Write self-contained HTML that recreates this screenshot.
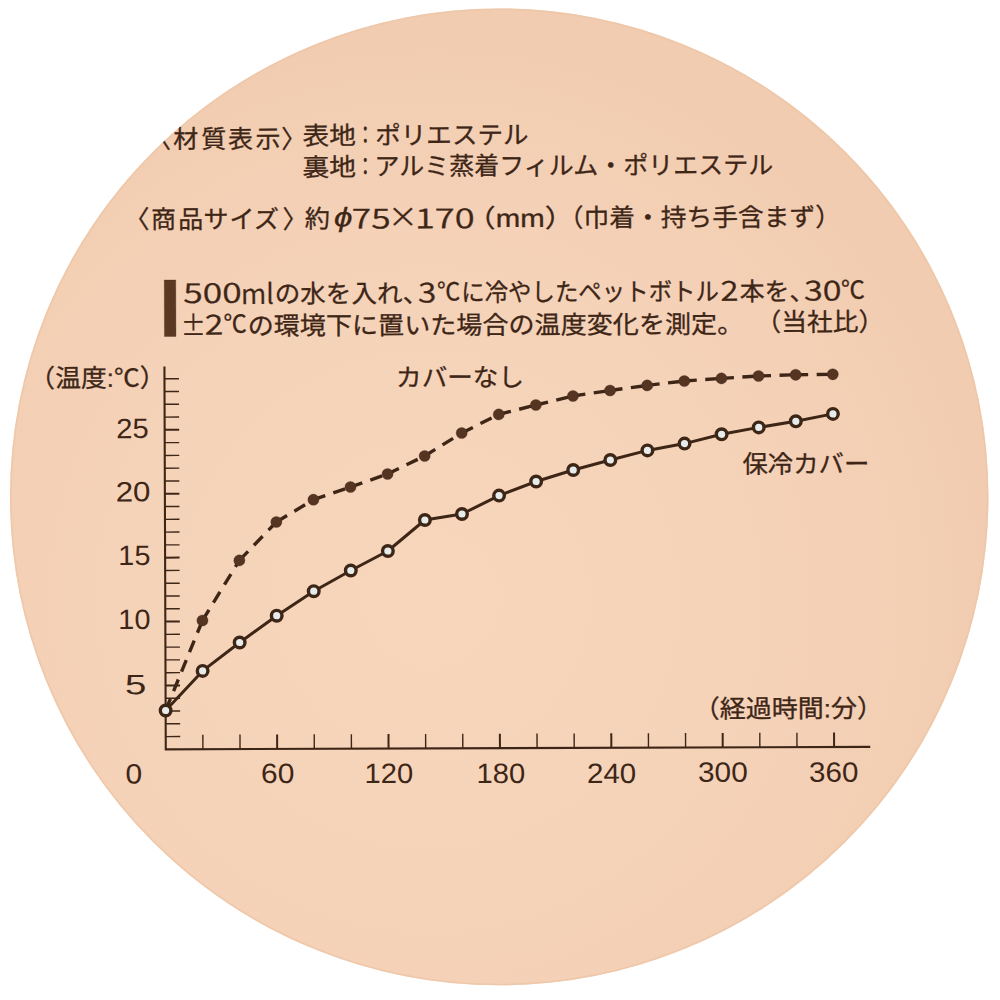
<!DOCTYPE html>
<html><head><meta charset="utf-8"><title>保冷カバー</title>
<style>html,body{margin:0;padding:0;background:#fff;width:1000px;height:1000px;overflow:hidden}svg{display:block}</style>
</head><body>
<svg width="1000" height="1000" viewBox="0 0 1000 1000">
<defs><radialGradient id="bg" gradientUnits="userSpaceOnUse" cx="430" cy="600" r="560"><stop offset="0" stop-color="#f7d6bc"/><stop offset="0.55" stop-color="#f5d3b9"/><stop offset="0.85" stop-color="#f3cfb4"/><stop offset="1" stop-color="#f1ccb0"/></radialGradient><clipPath id="c"><ellipse cx="499.2" cy="496.9" rx="489.2" ry="488.4"/></clipPath></defs>
<ellipse cx="499.2" cy="496.9" rx="489.2" ry="488.4" fill="url(#bg)"/>
<ellipse cx="499.2" cy="496.9" rx="488.4" ry="487.6" fill="none" stroke="#eec5a6" stroke-width="1.6" stroke-opacity="0.8"/>
<g clip-path="url(#c)"><g transform="rotate(-0.2 500 500)" fill="#3e2617" stroke="#3e2617" stroke-width="0.3">
<rect x="165.02" y="278.85" width="11.5" height="56.5" fill="#5a3822"/>
<text x="303.81" y="144.01" font-family="'Liberation Sans', 'Noto Sans CJK JP', sans-serif" font-size="25" textLength="53.45" lengthAdjust="spacingAndGlyphs">表地</text>
<text x="357.60" y="143.63" font-family="'Liberation Sans', 'Noto Sans CJK JP', sans-serif" font-size="25" textLength="18.14" lengthAdjust="spacingAndGlyphs">：</text>
<text x="376.43" y="143.84" font-family="'Liberation Sans', 'Noto Sans CJK JP', sans-serif" font-size="25" textLength="153.49" lengthAdjust="spacingAndGlyphs">ポリエステル</text>
<text x="303.70" y="175.51" font-family="'Liberation Sans', 'Noto Sans CJK JP', sans-serif" font-size="25" textLength="53.56" lengthAdjust="spacingAndGlyphs">裏地</text>
<text x="357.49" y="175.13" font-family="'Liberation Sans', 'Noto Sans CJK JP', sans-serif" font-size="25" textLength="18.14" lengthAdjust="spacingAndGlyphs">：</text>
<text x="375.57" y="174.76" font-family="'Liberation Sans', 'Noto Sans CJK JP', sans-serif" font-size="25">アルミ蒸着フィルム・ポリエステル</text>
<text x="305.58" y="227.06" font-family="'Liberation Sans', 'Noto Sans CJK JP', sans-serif" font-size="25" textLength="25.23" lengthAdjust="spacingAndGlyphs">約</text>
<text x="334.95" y="226.05" font-family="'Noto Sans CJK JP DemiLight', 'Noto Sans CJK JP', sans-serif" font-size="27" font-style="italic" textLength="18.50" lengthAdjust="spacingAndGlyphs">ϕ</text>
<text x="352.70" y="227.95" font-family="'Noto Sans CJK JP DemiLight', 'Noto Sans CJK JP', sans-serif" font-size="27.5" textLength="38.83" lengthAdjust="spacingAndGlyphs">75</text>
<text x="389.07" y="226.56" font-family="'Noto Sans CJK JP DemiLight', 'Noto Sans CJK JP', sans-serif" font-size="27.5" textLength="29.79" lengthAdjust="spacingAndGlyphs">×</text>
<text x="415.84" y="228.01" font-family="'Noto Sans CJK JP DemiLight', 'Noto Sans CJK JP', sans-serif" font-size="27.5" textLength="59.86" lengthAdjust="spacingAndGlyphs">170</text>
<text x="467.23" y="227.07" font-family="'Liberation Sans', 'Noto Sans CJK JP', sans-serif" font-size="25" textLength="107.85" lengthAdjust="spacingAndGlyphs">（mm）</text>
<text x="558.67" y="227.00" font-family="'Liberation Sans', 'Noto Sans CJK JP', sans-serif" font-size="25" textLength="283.35" lengthAdjust="spacingAndGlyphs">（巾着・持ち手含まず）</text>
<text x="183.93" y="301.90" font-family="'Noto Sans CJK JP DemiLight', 'Noto Sans CJK JP', sans-serif" font-size="27.5" textLength="58.46" lengthAdjust="spacingAndGlyphs">500</text>
<text x="241.72" y="303.06" font-family="'Noto Sans CJK JP DemiLight', 'Noto Sans CJK JP', sans-serif" font-size="27.5">ml</text>
<text x="275.43" y="302.06" font-family="'Liberation Sans', 'Noto Sans CJK JP', sans-serif" font-size="25" textLength="153.68" lengthAdjust="spacingAndGlyphs">の水を入れ、</text>
<text x="418.76" y="302.25" font-family="'Noto Sans CJK JP DemiLight', 'Noto Sans CJK JP', sans-serif" font-size="27.5" textLength="18.31" lengthAdjust="spacingAndGlyphs">3</text>
<text x="437.79" y="300.32" font-family="'Liberation Sans', 'Noto Sans CJK JP', sans-serif" font-size="25" textLength="23.38" lengthAdjust="spacingAndGlyphs">℃</text>
<text x="461.91" y="301.12" font-family="'Liberation Sans', 'Noto Sans CJK JP', sans-serif" font-size="25" textLength="257.76" lengthAdjust="spacingAndGlyphs">に冷やしたペットボトル</text>
<text x="721.29" y="301.55" font-family="'Noto Sans CJK JP DemiLight', 'Noto Sans CJK JP', sans-serif" font-size="27.5" textLength="18.02" lengthAdjust="spacingAndGlyphs">2</text>
<text x="740.33" y="301.44" font-family="'Liberation Sans', 'Noto Sans CJK JP', sans-serif" font-size="25" textLength="74.75" lengthAdjust="spacingAndGlyphs">本を、</text>
<text x="804.69" y="301.53" font-family="'Noto Sans CJK JP DemiLight', 'Noto Sans CJK JP', sans-serif" font-size="27.5" textLength="37.54" lengthAdjust="spacingAndGlyphs">30</text>
<text x="841.78" y="299.83" font-family="'Liberation Sans', 'Noto Sans CJK JP', sans-serif" font-size="25" textLength="23.93" lengthAdjust="spacingAndGlyphs">℃</text>
<text x="181.51" y="334.43" font-family="'Noto Sans CJK JP DemiLight', 'Noto Sans CJK JP', sans-serif" font-size="27.5" textLength="24.75" lengthAdjust="spacingAndGlyphs">±</text>
<text x="205.38" y="333.50" font-family="'Noto Sans CJK JP DemiLight', 'Noto Sans CJK JP', sans-serif" font-size="27.5" textLength="18.60" lengthAdjust="spacingAndGlyphs">2</text>
<text x="224.18" y="331.88" font-family="'Liberation Sans', 'Noto Sans CJK JP', sans-serif" font-size="25" textLength="23.38" lengthAdjust="spacingAndGlyphs">℃</text>
<text x="248.28" y="333.86" font-family="'Liberation Sans', 'Noto Sans CJK JP', sans-serif" font-size="25" textLength="495.54" lengthAdjust="spacingAndGlyphs">の環境下に置いた場合の温度変化を測定。</text>
<text x="756.10" y="332.02" font-family="'Liberation Sans', 'Noto Sans CJK JP', sans-serif" font-size="25" textLength="128.86" lengthAdjust="spacingAndGlyphs">（当社比）</text>
<text x="29.78" y="385.50" font-family="'Liberation Sans', 'Noto Sans CJK JP', sans-serif" font-size="25" textLength="136.26" lengthAdjust="spacingAndGlyphs">（温度:℃）</text>
<text x="396.46" y="386.16" font-family="'Liberation Sans', 'Noto Sans CJK JP', sans-serif" font-size="25" textLength="127.96" lengthAdjust="spacingAndGlyphs">カバーなし</text>
<text x="742.51" y="473.97" font-family="'Liberation Sans', 'Noto Sans CJK JP', sans-serif" font-size="25" textLength="126.96" lengthAdjust="spacingAndGlyphs">保冷カバー</text>
<text x="692.98" y="718.41" font-family="'Liberation Sans', 'Noto Sans CJK JP', sans-serif" font-size="25" textLength="189.33" lengthAdjust="spacingAndGlyphs">（経過時間:分）</text>
<text x="116.46" y="436.84" font-family="'Liberation Sans', sans-serif" font-size="28" stroke="none" textLength="32.50" lengthAdjust="spacingAndGlyphs">25</text>
<text x="115.71" y="500.07" font-family="'Liberation Sans', sans-serif" font-size="28" stroke="none" textLength="34.81" lengthAdjust="spacingAndGlyphs">20</text>
<text x="118.15" y="563.77" font-family="'Liberation Sans', sans-serif" font-size="28" stroke="none" textLength="32.05" lengthAdjust="spacingAndGlyphs">15</text>
<text x="117.93" y="627.62" font-family="'Liberation Sans', sans-serif" font-size="28" stroke="none" textLength="32.05" lengthAdjust="spacingAndGlyphs">10</text>
<text x="124.39" y="692.93" font-family="'Liberation Sans', sans-serif" font-size="28" stroke="none" textLength="21.36" lengthAdjust="spacingAndGlyphs">5</text>
<text x="124.57" y="782.22" font-family="'Liberation Sans', sans-serif" font-size="28" stroke="none" textLength="16.69" lengthAdjust="spacingAndGlyphs">0</text>
<text x="259.97" y="782.17" font-family="'Liberation Sans', sans-serif" font-size="28" stroke="none" textLength="33.41" lengthAdjust="spacingAndGlyphs">60</text>
<text x="363.56" y="782.56" font-family="'Liberation Sans', sans-serif" font-size="28" stroke="none" textLength="48.74" lengthAdjust="spacingAndGlyphs">120</text>
<text x="475.46" y="782.95" font-family="'Liberation Sans', sans-serif" font-size="28" stroke="none" textLength="48.74" lengthAdjust="spacingAndGlyphs">180</text>
<text x="585.99" y="783.34" font-family="'Liberation Sans', sans-serif" font-size="28" stroke="none" textLength="49.21" lengthAdjust="spacingAndGlyphs">240</text>
<text x="696.98" y="782.48" font-family="'Liberation Sans', sans-serif" font-size="28" stroke="none" textLength="49.83" lengthAdjust="spacingAndGlyphs">300</text>
<text x="807.99" y="782.86" font-family="'Liberation Sans', sans-serif" font-size="28" stroke="none" textLength="49.42" lengthAdjust="spacingAndGlyphs">360</text>
<text x="147.27" y="146.72" font-family="'Liberation Sans', 'Noto Sans CJK JP', sans-serif" font-size="25">〈</text>
<text x="174.47" y="146.76" font-family="'Liberation Sans', 'Noto Sans CJK JP', sans-serif" font-size="25">材</text>
<text x="202.47" y="146.86" font-family="'Liberation Sans', 'Noto Sans CJK JP', sans-serif" font-size="25">質</text>
<text x="229.27" y="146.96" font-family="'Liberation Sans', 'Noto Sans CJK JP', sans-serif" font-size="25">表</text>
<text x="256.67" y="147.05" font-family="'Liberation Sans', 'Noto Sans CJK JP', sans-serif" font-size="25">示</text>
<text x="282.57" y="147.15" font-family="'Liberation Sans', 'Noto Sans CJK JP', sans-serif" font-size="25">〉</text>
<text x="125.39" y="226.94" font-family="'Liberation Sans', 'Noto Sans CJK JP', sans-serif" font-size="25">〈</text>
<text x="151.99" y="226.99" font-family="'Liberation Sans', 'Noto Sans CJK JP', sans-serif" font-size="25">商</text>
<text x="179.19" y="227.09" font-family="'Liberation Sans', 'Noto Sans CJK JP', sans-serif" font-size="25">品</text>
<text x="204.49" y="227.17" font-family="'Liberation Sans', 'Noto Sans CJK JP', sans-serif" font-size="25">サ</text>
<text x="230.49" y="227.26" font-family="'Liberation Sans', 'Noto Sans CJK JP', sans-serif" font-size="25">イ</text>
<text x="254.99" y="227.35" font-family="'Liberation Sans', 'Noto Sans CJK JP', sans-serif" font-size="25">ズ</text>
<text x="283.48" y="227.45" font-family="'Liberation Sans', 'Noto Sans CJK JP', sans-serif" font-size="25">〉</text>
<path d="M164.90 365.30 V748.20 H869.40" fill="none" stroke="#3e2617" stroke-width="2.1" stroke-linecap="butt" stroke-linejoin="miter"/>
<line x1="164.90" y1="735.42" x2="179.40" y2="735.42" stroke="#3e2617" stroke-width="1.4"/>
<line x1="164.90" y1="722.64" x2="179.40" y2="722.64" stroke="#3e2617" stroke-width="1.4"/>
<line x1="164.90" y1="709.86" x2="179.40" y2="709.86" stroke="#3e2617" stroke-width="1.4"/>
<line x1="164.90" y1="697.08" x2="179.40" y2="697.08" stroke="#3e2617" stroke-width="1.4"/>
<line x1="164.90" y1="684.30" x2="179.40" y2="684.30" stroke="#3e2617" stroke-width="2.0"/>
<line x1="164.90" y1="671.52" x2="179.40" y2="671.52" stroke="#3e2617" stroke-width="1.4"/>
<line x1="164.90" y1="658.74" x2="179.40" y2="658.74" stroke="#3e2617" stroke-width="1.4"/>
<line x1="164.90" y1="645.96" x2="179.40" y2="645.96" stroke="#3e2617" stroke-width="1.4"/>
<line x1="164.90" y1="633.18" x2="179.40" y2="633.18" stroke="#3e2617" stroke-width="1.4"/>
<line x1="164.90" y1="620.40" x2="179.40" y2="620.40" stroke="#3e2617" stroke-width="2.0"/>
<line x1="164.90" y1="607.62" x2="179.40" y2="607.62" stroke="#3e2617" stroke-width="1.4"/>
<line x1="164.90" y1="594.84" x2="179.40" y2="594.84" stroke="#3e2617" stroke-width="1.4"/>
<line x1="164.90" y1="582.06" x2="179.40" y2="582.06" stroke="#3e2617" stroke-width="1.4"/>
<line x1="164.90" y1="569.28" x2="179.40" y2="569.28" stroke="#3e2617" stroke-width="1.4"/>
<line x1="164.90" y1="556.50" x2="179.40" y2="556.50" stroke="#3e2617" stroke-width="2.0"/>
<line x1="164.90" y1="543.72" x2="179.40" y2="543.72" stroke="#3e2617" stroke-width="1.4"/>
<line x1="164.90" y1="530.94" x2="179.40" y2="530.94" stroke="#3e2617" stroke-width="1.4"/>
<line x1="164.90" y1="518.16" x2="179.40" y2="518.16" stroke="#3e2617" stroke-width="1.4"/>
<line x1="164.90" y1="505.38" x2="179.40" y2="505.38" stroke="#3e2617" stroke-width="1.4"/>
<line x1="164.90" y1="492.60" x2="179.40" y2="492.60" stroke="#3e2617" stroke-width="2.0"/>
<line x1="164.90" y1="479.82" x2="179.40" y2="479.82" stroke="#3e2617" stroke-width="1.4"/>
<line x1="164.90" y1="467.04" x2="179.40" y2="467.04" stroke="#3e2617" stroke-width="1.4"/>
<line x1="164.90" y1="454.26" x2="179.40" y2="454.26" stroke="#3e2617" stroke-width="1.4"/>
<line x1="164.90" y1="441.48" x2="179.40" y2="441.48" stroke="#3e2617" stroke-width="1.4"/>
<line x1="164.90" y1="428.70" x2="179.40" y2="428.70" stroke="#3e2617" stroke-width="2.0"/>
<line x1="164.90" y1="415.92" x2="179.40" y2="415.92" stroke="#3e2617" stroke-width="1.4"/>
<line x1="164.90" y1="403.14" x2="179.40" y2="403.14" stroke="#3e2617" stroke-width="1.4"/>
<line x1="164.90" y1="390.36" x2="179.40" y2="390.36" stroke="#3e2617" stroke-width="1.4"/>
<line x1="164.90" y1="377.58" x2="179.40" y2="377.58" stroke="#3e2617" stroke-width="1.4"/>
<line x1="202.03" y1="748.20" x2="202.03" y2="733.70" stroke="#3e2617" stroke-width="1.4"/>
<line x1="239.16" y1="748.20" x2="239.16" y2="733.70" stroke="#3e2617" stroke-width="1.4"/>
<line x1="276.29" y1="748.20" x2="276.29" y2="733.70" stroke="#3e2617" stroke-width="2.0"/>
<line x1="313.42" y1="748.20" x2="313.42" y2="733.70" stroke="#3e2617" stroke-width="1.4"/>
<line x1="350.55" y1="748.20" x2="350.55" y2="733.70" stroke="#3e2617" stroke-width="1.4"/>
<line x1="387.68" y1="748.20" x2="387.68" y2="733.70" stroke="#3e2617" stroke-width="2.0"/>
<line x1="424.81" y1="748.20" x2="424.81" y2="733.70" stroke="#3e2617" stroke-width="1.4"/>
<line x1="461.94" y1="748.20" x2="461.94" y2="733.70" stroke="#3e2617" stroke-width="1.4"/>
<line x1="499.07" y1="748.20" x2="499.07" y2="733.70" stroke="#3e2617" stroke-width="2.0"/>
<line x1="536.20" y1="748.20" x2="536.20" y2="733.70" stroke="#3e2617" stroke-width="1.4"/>
<line x1="573.33" y1="748.20" x2="573.33" y2="733.70" stroke="#3e2617" stroke-width="1.4"/>
<line x1="610.46" y1="748.20" x2="610.46" y2="733.70" stroke="#3e2617" stroke-width="2.0"/>
<line x1="647.59" y1="748.20" x2="647.59" y2="733.70" stroke="#3e2617" stroke-width="1.4"/>
<line x1="684.72" y1="748.20" x2="684.72" y2="733.70" stroke="#3e2617" stroke-width="1.4"/>
<line x1="721.85" y1="748.20" x2="721.85" y2="733.70" stroke="#3e2617" stroke-width="2.0"/>
<line x1="758.98" y1="748.20" x2="758.98" y2="733.70" stroke="#3e2617" stroke-width="1.4"/>
<line x1="796.11" y1="748.20" x2="796.11" y2="733.70" stroke="#3e2617" stroke-width="1.4"/>
<line x1="833.24" y1="748.20" x2="833.24" y2="733.70" stroke="#3e2617" stroke-width="2.0"/>
<line x1="164.90" y1="709.33" x2="202.03" y2="619.46" stroke="#3e2617" stroke-width="3.4" stroke-dasharray="12.5 8.5"/>
<line x1="202.03" y1="619.46" x2="239.16" y2="559.49" stroke="#3e2617" stroke-width="3.4" stroke-dasharray="12.5 8.5"/>
<line x1="239.16" y1="559.49" x2="276.29" y2="521.22" stroke="#3e2617" stroke-width="3.4" stroke-dasharray="12.5 8.5"/>
<line x1="276.29" y1="521.22" x2="313.42" y2="499.05" stroke="#3e2617" stroke-width="3.4" stroke-dasharray="12.5 8.5"/>
<line x1="313.42" y1="499.05" x2="350.55" y2="486.48" stroke="#3e2617" stroke-width="3.4" stroke-dasharray="12.5 8.5"/>
<line x1="350.55" y1="486.48" x2="387.68" y2="473.61" stroke="#3e2617" stroke-width="3.4" stroke-dasharray="12.5 8.5"/>
<line x1="387.68" y1="473.61" x2="424.81" y2="455.74" stroke="#3e2617" stroke-width="3.4" stroke-dasharray="12.5 8.5"/>
<line x1="424.81" y1="455.74" x2="461.94" y2="432.87" stroke="#3e2617" stroke-width="3.4" stroke-dasharray="12.5 8.5"/>
<line x1="461.94" y1="432.87" x2="499.07" y2="414.40" stroke="#3e2617" stroke-width="3.4" stroke-dasharray="12.5 8.5"/>
<line x1="499.07" y1="414.40" x2="536.20" y2="405.13" stroke="#3e2617" stroke-width="3.4" stroke-dasharray="12.5 8.5"/>
<line x1="536.20" y1="405.13" x2="573.33" y2="396.26" stroke="#3e2617" stroke-width="3.4" stroke-dasharray="12.5 8.5"/>
<line x1="573.33" y1="396.26" x2="610.46" y2="390.89" stroke="#3e2617" stroke-width="3.4" stroke-dasharray="12.5 8.5"/>
<line x1="610.46" y1="390.89" x2="647.59" y2="385.92" stroke="#3e2617" stroke-width="3.4" stroke-dasharray="12.5 8.5"/>
<line x1="647.59" y1="385.92" x2="684.72" y2="381.64" stroke="#3e2617" stroke-width="3.4" stroke-dasharray="12.5 8.5"/>
<line x1="684.72" y1="381.64" x2="721.85" y2="379.17" stroke="#3e2617" stroke-width="3.4" stroke-dasharray="12.5 8.5"/>
<line x1="721.85" y1="379.17" x2="758.98" y2="376.90" stroke="#3e2617" stroke-width="3.4" stroke-dasharray="12.5 8.5"/>
<line x1="758.98" y1="376.90" x2="796.11" y2="375.83" stroke="#3e2617" stroke-width="3.4" stroke-dasharray="12.5 8.5"/>
<line x1="796.11" y1="375.83" x2="833.24" y2="375.46" stroke="#3e2617" stroke-width="3.4" stroke-dasharray="12.5 8.5"/>
<circle cx="202.03" cy="619.46" r="5.6" fill="#553521"/>
<circle cx="239.16" cy="559.49" r="5.6" fill="#553521"/>
<circle cx="276.29" cy="521.22" r="5.6" fill="#553521"/>
<circle cx="313.42" cy="499.05" r="5.6" fill="#553521"/>
<circle cx="350.55" cy="486.48" r="5.6" fill="#553521"/>
<circle cx="387.68" cy="473.61" r="5.6" fill="#553521"/>
<circle cx="424.81" cy="455.74" r="5.6" fill="#553521"/>
<circle cx="461.94" cy="432.87" r="5.6" fill="#553521"/>
<circle cx="499.07" cy="414.40" r="5.6" fill="#553521"/>
<circle cx="536.20" cy="405.13" r="5.6" fill="#553521"/>
<circle cx="573.33" cy="396.26" r="5.6" fill="#553521"/>
<circle cx="610.46" cy="390.89" r="5.6" fill="#553521"/>
<circle cx="647.59" cy="385.92" r="5.6" fill="#553521"/>
<circle cx="684.72" cy="381.64" r="5.6" fill="#553521"/>
<circle cx="721.85" cy="379.17" r="5.6" fill="#553521"/>
<circle cx="758.98" cy="376.90" r="5.6" fill="#553521"/>
<circle cx="796.11" cy="375.83" r="5.6" fill="#553521"/>
<circle cx="833.24" cy="375.46" r="5.6" fill="#553521"/>
<polyline points="164.90,709.33 202.03,669.86 239.16,641.59 276.29,614.92 313.42,590.55 350.55,569.98 387.68,550.61 424.81,519.74 461.94,513.87 499.07,495.60 536.20,481.63 573.33,470.26 610.46,460.39 647.59,450.92 684.72,444.24 721.85,435.07 758.98,428.30 796.11,422.33 833.24,415.06" fill="none" stroke="#3e2617" stroke-width="3" stroke-linejoin="round"/>
<circle cx="164.90" cy="709.33" r="5.3" fill="#e6ecec" stroke="#3e2617" stroke-width="3.4"/>
<circle cx="202.03" cy="669.86" r="5.3" fill="#e6ecec" stroke="#3e2617" stroke-width="3.4"/>
<circle cx="239.16" cy="641.59" r="5.3" fill="#e6ecec" stroke="#3e2617" stroke-width="3.4"/>
<circle cx="276.29" cy="614.92" r="5.3" fill="#e6ecec" stroke="#3e2617" stroke-width="3.4"/>
<circle cx="313.42" cy="590.55" r="5.3" fill="#e6ecec" stroke="#3e2617" stroke-width="3.4"/>
<circle cx="350.55" cy="569.98" r="5.3" fill="#e6ecec" stroke="#3e2617" stroke-width="3.4"/>
<circle cx="387.68" cy="550.61" r="5.3" fill="#e6ecec" stroke="#3e2617" stroke-width="3.4"/>
<circle cx="424.81" cy="519.74" r="5.3" fill="#e6ecec" stroke="#3e2617" stroke-width="3.4"/>
<circle cx="461.94" cy="513.87" r="5.3" fill="#e6ecec" stroke="#3e2617" stroke-width="3.4"/>
<circle cx="499.07" cy="495.60" r="5.3" fill="#e6ecec" stroke="#3e2617" stroke-width="3.4"/>
<circle cx="536.20" cy="481.63" r="5.3" fill="#e6ecec" stroke="#3e2617" stroke-width="3.4"/>
<circle cx="573.33" cy="470.26" r="5.3" fill="#e6ecec" stroke="#3e2617" stroke-width="3.4"/>
<circle cx="610.46" cy="460.39" r="5.3" fill="#e6ecec" stroke="#3e2617" stroke-width="3.4"/>
<circle cx="647.59" cy="450.92" r="5.3" fill="#e6ecec" stroke="#3e2617" stroke-width="3.4"/>
<circle cx="684.72" cy="444.24" r="5.3" fill="#e6ecec" stroke="#3e2617" stroke-width="3.4"/>
<circle cx="721.85" cy="435.07" r="5.3" fill="#e6ecec" stroke="#3e2617" stroke-width="3.4"/>
<circle cx="758.98" cy="428.30" r="5.3" fill="#e6ecec" stroke="#3e2617" stroke-width="3.4"/>
<circle cx="796.11" cy="422.33" r="5.3" fill="#e6ecec" stroke="#3e2617" stroke-width="3.4"/>
<circle cx="833.24" cy="415.06" r="5.3" fill="#e6ecec" stroke="#3e2617" stroke-width="3.4"/>
</g></g>
</svg>
</body></html>
